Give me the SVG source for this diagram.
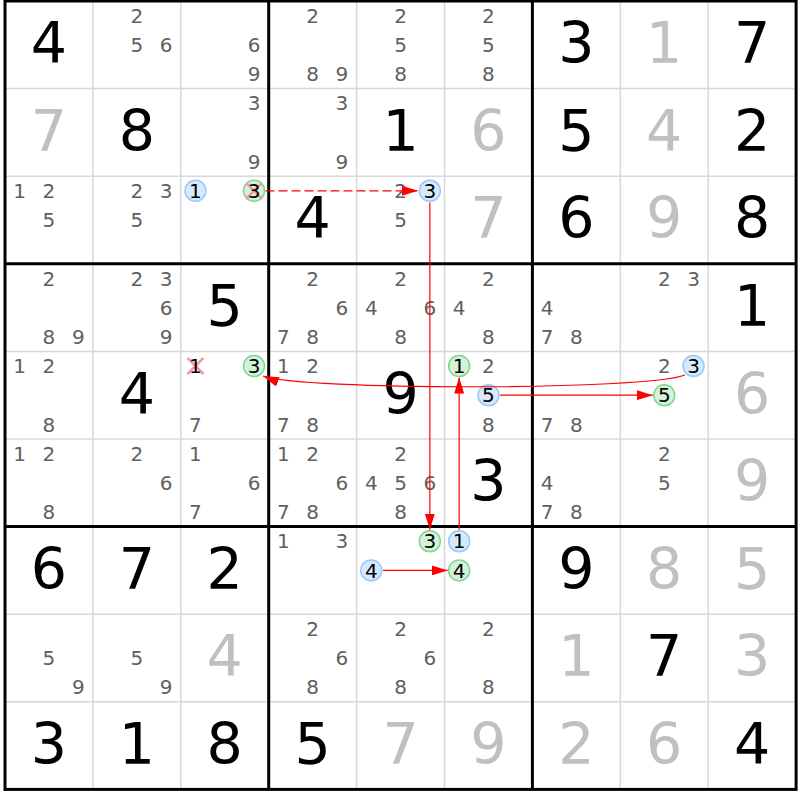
<svg xmlns="http://www.w3.org/2000/svg" width="800" height="800" viewBox="0 0 800 800">
<style>
.g{font-family:"DejaVu Sans",sans-serif;font-size:57px;fill:#000;text-anchor:middle}
.s{font-family:"DejaVu Sans",sans-serif;font-size:57px;fill:#c0c0c0;text-anchor:middle}
.c{font-family:"DejaVu Sans",sans-serif;font-size:20px;fill:#606060;text-anchor:middle}
.k{fill:#000}
.cb{fill:#d6e9fd;stroke:#99c9fb;stroke-width:1.5}
.cg{fill:#d3f2da;stroke:#80d690;stroke-width:1.5}
.x{stroke:#f59aa2;stroke-width:2.5;fill:none}
.thin{stroke:#d8d8d8;stroke-width:1.5}
.thick{stroke:#000;stroke-width:3;fill:none}
.ln{stroke:#f00;stroke-width:1.2;fill:none}
</style>
<defs>
<marker id="ah" viewBox="0 0 16 10" refX="16" refY="5" markerWidth="16" markerHeight="10" markerUnits="userSpaceOnUse" orient="auto"><path d="M0,0L16,5L0,10z" fill="#f00"/></marker>
</defs>
<rect width="800" height="800" fill="#fff"/>
<g id="grid-thin" class="thin">
<line x1="92.9" y1="1" x2="92.9" y2="789.4"/><line x1="180.8" y1="1" x2="180.8" y2="789.4"/>
<line x1="356.6" y1="1" x2="356.6" y2="789.4"/><line x1="444.5" y1="1" x2="444.5" y2="789.4"/>
<line x1="620.3" y1="1" x2="620.3" y2="789.4"/><line x1="708.2" y1="1" x2="708.2" y2="789.4"/>
<line x1="5" y1="88.6" x2="796.1" y2="88.6"/><line x1="5" y1="176.2" x2="796.1" y2="176.2"/>
<line x1="5" y1="351.4" x2="796.1" y2="351.4"/><line x1="5" y1="439" x2="796.1" y2="439"/>
<line x1="5" y1="614.2" x2="796.1" y2="614.2"/><line x1="5" y1="701.8" x2="796.1" y2="701.8"/>
</g>
<g id="grid-thick" class="thick">
<rect x="5" y="1" width="791.1" height="788.4"/>
<line x1="268.7" y1="1" x2="268.7" y2="789.4"/><line x1="532.4" y1="1" x2="532.4" y2="789.4"/>
<line x1="5" y1="263.8" x2="796.1" y2="263.8"/><line x1="5" y1="526.6" x2="796.1" y2="526.6"/>
</g>

<g id="r0c0" transform="translate(5,1)"><text class="g" x="43.95" y="62.3">4</text></g>
<g id="r0c1" transform="translate(92.9,1)" class="c"><text x="43.95" y="21.9">2</text><text x="43.95" y="51.1">5</text><text x="73.25" y="51.1">6</text></g>
<g id="r0c2" transform="translate(180.8,1)" class="c"><text x="73.25" y="51.1">6</text><text x="73.25" y="80.3">9</text></g>
<g id="r0c3" transform="translate(268.7,1)" class="c"><text x="43.95" y="21.9">2</text><text x="43.95" y="80.3">8</text><text x="73.25" y="80.3">9</text></g>
<g id="r0c4" transform="translate(356.6,1)" class="c"><text x="43.95" y="21.9">2</text><text x="43.95" y="51.1">5</text><text x="43.95" y="80.3">8</text></g>
<g id="r0c5" transform="translate(444.5,1)" class="c"><text x="43.95" y="21.9">2</text><text x="43.95" y="51.1">5</text><text x="43.95" y="80.3">8</text></g>
<g id="r0c6" transform="translate(532.4,1)"><text class="g" x="43.95" y="62.3">3</text></g>
<g id="r0c7" transform="translate(620.3,1)"><text class="s" x="43.95" y="62.3">1</text></g>
<g id="r0c8" transform="translate(708.2,1)"><text class="g" x="43.95" y="62.3">7</text></g>

<g id="r1c0" transform="translate(5,88.6)"><text class="s" x="43.95" y="62.3">7</text></g>
<g id="r1c1" transform="translate(92.9,88.6)"><text class="g" x="43.95" y="62.3">8</text></g>
<g id="r1c2" transform="translate(180.8,88.6)" class="c"><text x="73.25" y="21.9">3</text><text x="73.25" y="80.3">9</text></g>
<g id="r1c3" transform="translate(268.7,88.6)" class="c"><text x="73.25" y="21.9">3</text><text x="73.25" y="80.3">9</text></g>
<g id="r1c4" transform="translate(356.6,88.6)"><text class="g" x="43.95" y="62.3">1</text></g>
<g id="r1c5" transform="translate(444.5,88.6)"><text class="s" x="43.95" y="62.3">6</text></g>
<g id="r1c6" transform="translate(532.4,88.6)"><text class="g" x="43.95" y="62.3">5</text></g>
<g id="r1c7" transform="translate(620.3,88.6)"><text class="s" x="43.95" y="62.3">4</text></g>
<g id="r1c8" transform="translate(708.2,88.6)"><text class="g" x="43.95" y="62.3">2</text></g>

<g id="r2c0" transform="translate(5,176.2)" class="c"><text x="14.65" y="21.9">1</text><text x="43.95" y="21.9">2</text><text x="43.95" y="51.1">5</text></g>
<g id="r2c1" transform="translate(92.9,176.2)" class="c"><text x="43.95" y="21.9">2</text><text x="73.25" y="21.9">3</text><text x="43.95" y="51.1">5</text></g>
<g id="r2c2" transform="translate(180.8,176.2)" class="c"><circle class="cb" cx="14.65" cy="14.6" r="10.5"/><text class="k" x="14.65" y="21.9">1</text><circle class="cg" cx="73.25" cy="14.6" r="10.5"/><path class="x" d="M65.25,6.6L81.25,22.6M81.25,6.6L65.25,22.6"/><text class="k" x="73.25" y="21.9">3</text></g>
<g id="r2c3" transform="translate(268.7,176.2)"><text class="g" x="43.95" y="62.3">4</text></g>
<g id="r2c4" transform="translate(356.6,176.2)" class="c"><text x="43.95" y="21.9">2</text><circle class="cb" cx="73.25" cy="14.6" r="10.5"/><text class="k" x="73.25" y="21.9">3</text><text x="43.95" y="51.1">5</text></g>
<g id="r2c5" transform="translate(444.5,176.2)"><text class="s" x="43.95" y="62.3">7</text></g>
<g id="r2c6" transform="translate(532.4,176.2)"><text class="g" x="43.95" y="62.3">6</text></g>
<g id="r2c7" transform="translate(620.3,176.2)"><text class="s" x="43.95" y="62.3">9</text></g>
<g id="r2c8" transform="translate(708.2,176.2)"><text class="g" x="43.95" y="62.3">8</text></g>

<g id="r3c0" transform="translate(5,263.8)" class="c"><text x="43.95" y="21.9">2</text><text x="43.95" y="80.3">8</text><text x="73.25" y="80.3">9</text></g>
<g id="r3c1" transform="translate(92.9,263.8)" class="c"><text x="43.95" y="21.9">2</text><text x="73.25" y="21.9">3</text><text x="73.25" y="51.1">6</text><text x="73.25" y="80.3">9</text></g>
<g id="r3c2" transform="translate(180.8,263.8)"><text class="g" x="43.95" y="62.3">5</text></g>
<g id="r3c3" transform="translate(268.7,263.8)" class="c"><text x="43.95" y="21.9">2</text><text x="73.25" y="51.1">6</text><text x="14.65" y="80.3">7</text><text x="43.95" y="80.3">8</text></g>
<g id="r3c4" transform="translate(356.6,263.8)" class="c"><text x="43.95" y="21.9">2</text><text x="14.65" y="51.1">4</text><text x="73.25" y="51.1">6</text><text x="43.95" y="80.3">8</text></g>
<g id="r3c5" transform="translate(444.5,263.8)" class="c"><text x="43.95" y="21.9">2</text><text x="14.65" y="51.1">4</text><text x="43.95" y="80.3">8</text></g>
<g id="r3c6" transform="translate(532.4,263.8)" class="c"><text x="14.65" y="51.1">4</text><text x="14.65" y="80.3">7</text><text x="43.95" y="80.3">8</text></g>
<g id="r3c7" transform="translate(620.3,263.8)" class="c"><text x="43.95" y="21.9">2</text><text x="73.25" y="21.9">3</text></g>
<g id="r3c8" transform="translate(708.2,263.8)"><text class="g" x="43.95" y="62.3">1</text></g>

<g id="r4c0" transform="translate(5,351.4)" class="c"><text x="14.65" y="21.9">1</text><text x="43.95" y="21.9">2</text><text x="43.95" y="80.3">8</text></g>
<g id="r4c1" transform="translate(92.9,351.4)"><text class="g" x="43.95" y="62.3">4</text></g>
<g id="r4c2" transform="translate(180.8,351.4)" class="c"><path class="x" d="M6.65,6.6L22.65,22.6M22.65,6.6L6.65,22.6"/><text class="k" x="14.65" y="21.9">1</text><circle class="cg" cx="73.25" cy="14.6" r="10.5"/><text class="k" x="73.25" y="21.9">3</text><text x="14.65" y="80.3">7</text></g>
<g id="r4c3" transform="translate(268.7,351.4)" class="c"><text x="14.65" y="21.9">1</text><text x="43.95" y="21.9">2</text><text x="14.65" y="80.3">7</text><text x="43.95" y="80.3">8</text></g>
<g id="r4c4" transform="translate(356.6,351.4)"><text class="g" x="43.95" y="62.3">9</text></g>
<g id="r4c5" transform="translate(444.5,351.4)" class="c"><circle class="cg" cx="14.65" cy="14.6" r="10.5"/><text class="k" x="14.65" y="21.9">1</text><text x="43.95" y="21.9">2</text><circle class="cb" cx="43.95" cy="43.8" r="10.5"/><text class="k" x="43.95" y="51.1">5</text><text x="43.95" y="80.3">8</text></g>
<g id="r4c6" transform="translate(532.4,351.4)" class="c"><text x="14.65" y="80.3">7</text><text x="43.95" y="80.3">8</text></g>
<g id="r4c7" transform="translate(620.3,351.4)" class="c"><text x="43.95" y="21.9">2</text><circle class="cb" cx="73.25" cy="14.6" r="10.5"/><text class="k" x="73.25" y="21.9">3</text><circle class="cg" cx="43.95" cy="43.8" r="10.5"/><text class="k" x="43.95" y="51.1">5</text></g>
<g id="r4c8" transform="translate(708.2,351.4)"><text class="s" x="43.95" y="62.3">6</text></g>

<g id="r5c0" transform="translate(5,439)" class="c"><text x="14.65" y="21.9">1</text><text x="43.95" y="21.9">2</text><text x="43.95" y="80.3">8</text></g>
<g id="r5c1" transform="translate(92.9,439)" class="c"><text x="43.95" y="21.9">2</text><text x="73.25" y="51.1">6</text></g>
<g id="r5c2" transform="translate(180.8,439)" class="c"><text x="14.65" y="21.9">1</text><text x="73.25" y="51.1">6</text><text x="14.65" y="80.3">7</text></g>
<g id="r5c3" transform="translate(268.7,439)" class="c"><text x="14.65" y="21.9">1</text><text x="43.95" y="21.9">2</text><text x="73.25" y="51.1">6</text><text x="14.65" y="80.3">7</text><text x="43.95" y="80.3">8</text></g>
<g id="r5c4" transform="translate(356.6,439)" class="c"><text x="43.95" y="21.9">2</text><text x="14.65" y="51.1">4</text><text x="43.95" y="51.1">5</text><text x="73.25" y="51.1">6</text><text x="43.95" y="80.3">8</text></g>
<g id="r5c5" transform="translate(444.5,439)"><text class="g" x="43.95" y="62.3">3</text></g>
<g id="r5c6" transform="translate(532.4,439)" class="c"><text x="14.65" y="51.1">4</text><text x="14.65" y="80.3">7</text><text x="43.95" y="80.3">8</text></g>
<g id="r5c7" transform="translate(620.3,439)" class="c"><text x="43.95" y="21.9">2</text><text x="43.95" y="51.1">5</text></g>
<g id="r5c8" transform="translate(708.2,439)"><text class="s" x="43.95" y="62.3">9</text></g>

<g id="r6c0" transform="translate(5,526.6)"><text class="g" x="43.95" y="62.3">6</text></g>
<g id="r6c1" transform="translate(92.9,526.6)"><text class="g" x="43.95" y="62.3">7</text></g>
<g id="r6c2" transform="translate(180.8,526.6)"><text class="g" x="43.95" y="62.3">2</text></g>
<g id="r6c3" transform="translate(268.7,526.6)" class="c"><text x="14.65" y="21.9">1</text><text x="73.25" y="21.9">3</text></g>
<g id="r6c4" transform="translate(356.6,526.6)" class="c"><circle class="cg" cx="73.25" cy="14.6" r="10.5"/><text class="k" x="73.25" y="21.9">3</text><circle class="cb" cx="14.65" cy="43.8" r="10.5"/><text class="k" x="14.65" y="51.1">4</text></g>
<g id="r6c5" transform="translate(444.5,526.6)" class="c"><circle class="cb" cx="14.65" cy="14.6" r="10.5"/><text class="k" x="14.65" y="21.9">1</text><circle class="cg" cx="14.65" cy="43.8" r="10.5"/><text class="k" x="14.65" y="51.1">4</text></g>
<g id="r6c6" transform="translate(532.4,526.6)"><text class="g" x="43.95" y="62.3">9</text></g>
<g id="r6c7" transform="translate(620.3,526.6)"><text class="s" x="43.95" y="62.3">8</text></g>
<g id="r6c8" transform="translate(708.2,526.6)"><text class="s" x="43.95" y="62.3">5</text></g>

<g id="r7c0" transform="translate(5,614.2)" class="c"><text x="43.95" y="51.1">5</text><text x="73.25" y="80.3">9</text></g>
<g id="r7c1" transform="translate(92.9,614.2)" class="c"><text x="43.95" y="51.1">5</text><text x="73.25" y="80.3">9</text></g>
<g id="r7c2" transform="translate(180.8,614.2)"><text class="s" x="43.95" y="62.3">4</text></g>
<g id="r7c3" transform="translate(268.7,614.2)" class="c"><text x="43.95" y="21.9">2</text><text x="73.25" y="51.1">6</text><text x="43.95" y="80.3">8</text></g>
<g id="r7c4" transform="translate(356.6,614.2)" class="c"><text x="43.95" y="21.9">2</text><text x="73.25" y="51.1">6</text><text x="43.95" y="80.3">8</text></g>
<g id="r7c5" transform="translate(444.5,614.2)" class="c"><text x="43.95" y="21.9">2</text><text x="43.95" y="80.3">8</text></g>
<g id="r7c6" transform="translate(532.4,614.2)"><text class="s" x="43.95" y="62.3">1</text></g>
<g id="r7c7" transform="translate(620.3,614.2)"><text class="g" x="43.95" y="62.3">7</text></g>
<g id="r7c8" transform="translate(708.2,614.2)"><text class="s" x="43.95" y="62.3">3</text></g>

<g id="r8c0" transform="translate(5,701.8)"><text class="g" x="43.95" y="62.3">3</text></g>
<g id="r8c1" transform="translate(92.9,701.8)"><text class="g" x="43.95" y="62.3">1</text></g>
<g id="r8c2" transform="translate(180.8,701.8)"><text class="g" x="43.95" y="62.3">8</text></g>
<g id="r8c3" transform="translate(268.7,701.8)"><text class="g" x="43.95" y="62.3">5</text></g>
<g id="r8c4" transform="translate(356.6,701.8)"><text class="s" x="43.95" y="62.3">7</text></g>
<g id="r8c5" transform="translate(444.5,701.8)"><text class="s" x="43.95" y="62.3">9</text></g>
<g id="r8c6" transform="translate(532.4,701.8)"><text class="s" x="43.95" y="62.3">2</text></g>
<g id="r8c7" transform="translate(620.3,701.8)"><text class="s" x="43.95" y="62.3">6</text></g>
<g id="r8c8" transform="translate(708.2,701.8)"><text class="g" x="43.95" y="62.3">4</text></g>

<g id="connectors" class="ln" marker-end="url(#ah)">
<line x1="265.5" y1="190.8" x2="418" y2="190.8" stroke-dasharray="9,4"/>
<line x1="429.85" y1="202.5" x2="429.85" y2="529.7"/>
<line x1="459.15" y1="529.7" x2="459.15" y2="377.5"/>
<path d="M685,375C647,390.5 300,390.5 263,376"/>
<line x1="500" y1="395.2" x2="652.7" y2="395.2"/>
<line x1="383" y1="570.4" x2="447.7" y2="570.4"/>
</g>
</svg>
